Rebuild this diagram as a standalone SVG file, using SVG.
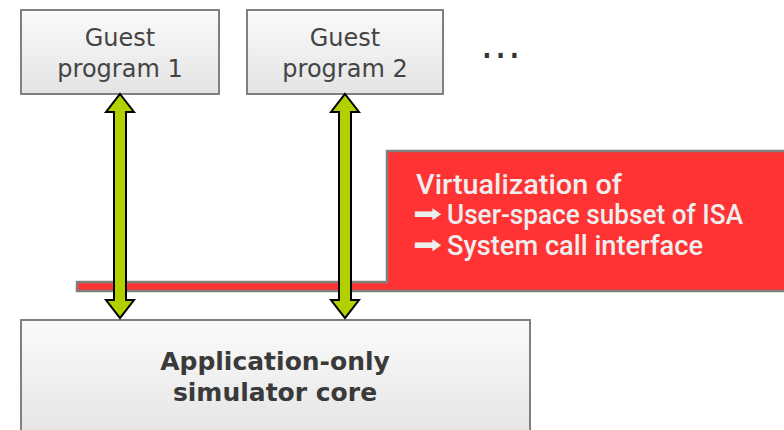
<svg xmlns="http://www.w3.org/2000/svg" width="784" height="430" viewBox="0 0 784 430">
<defs>
<linearGradient id="boxg" x1="0" y1="0" x2="0" y2="1">
<stop offset="0" stop-color="#fafafa"/>
<stop offset="1" stop-color="#e4e4e4"/>
</linearGradient>
<linearGradient id="coreg" x1="0" y1="0" x2="0" y2="1">
<stop offset="0" stop-color="#fbfbfb"/>
<stop offset="1" stop-color="#e2e2e2"/>
</linearGradient>
</defs>
<style>
.box{fill:url(#boxg);stroke:#808080;stroke-width:2}
.core{fill:url(#coreg);stroke:#808080;stroke-width:2}
.lbl{font-family:"DejaVu Sans",sans-serif;font-size:24px;fill:#444;text-anchor:middle}
.bold{font-family:"DejaVu Sans",sans-serif;font-size:25px;font-weight:bold;fill:#3a3a3a;text-anchor:middle}
.red{font-family:Roboto,"Liberation Sans",sans-serif;font-size:27px;font-weight:500;fill:#eeeeee}
.sym{font-family:"DejaVu Sans",sans-serif;font-size:24px;fill:#eeeeee}
.arr{fill:#b2d000;stroke:#000;stroke-width:2;stroke-linejoin:miter}
</style>
<g id="virtualization">
<path d="M77,282 L387,282 L387,151 L790,151 L790,291 L77,291 Z" fill="#ff3333" stroke="#808080" stroke-width="2.5"/>
<text class="red" x="416" y="194" textLength="206" lengthAdjust="spacingAndGlyphs">Virtualization of</text>
<text class="sym" x="413" y="222" textLength="29" lengthAdjust="spacingAndGlyphs">➡</text>
<text class="red" x="447" y="224" textLength="296" lengthAdjust="spacingAndGlyphs">User-space subset of ISA</text>
<text class="sym" x="413" y="253" textLength="29" lengthAdjust="spacingAndGlyphs">➡</text>
<text class="red" x="447" y="255" textLength="256" lengthAdjust="spacingAndGlyphs">System call interface</text>
</g>
<g id="guest1">
<rect class="box" x="21" y="10" width="198" height="84"/>
<text class="lbl" x="120" y="46">Guest</text>
<text class="lbl" x="120" y="77">program 1</text>
</g>
<g id="guest2">
<rect class="box" x="247" y="10" width="196" height="84"/>
<text class="lbl" x="345" y="46">Guest</text>
<text class="lbl" x="345" y="77">program 2</text>
</g>
<g id="more">
<text x="480.5" y="58" font-family="DejaVu Sans,sans-serif" font-size="40" letter-spacing="1" fill="#333">...</text>
</g>
<g id="core">
<rect class="core" x="21" y="320" width="509" height="130"/>
<text class="bold" x="275" y="370">Application-only</text>
<text class="bold" x="275" y="401">simulator core</text>
</g>
<g id="connectors">
<path class="arr" d="M120,94 L134,112 L126,112 L126,300 L134,300 L120,318 L106,300 L114,300 L114,112 L106,112 Z"/>
<path class="arr" d="M345,94 L359,112 L351,112 L351,300 L359,300 L345,318 L331,300 L339,300 L339,112 L331,112 Z"/>
</g>
</svg>
